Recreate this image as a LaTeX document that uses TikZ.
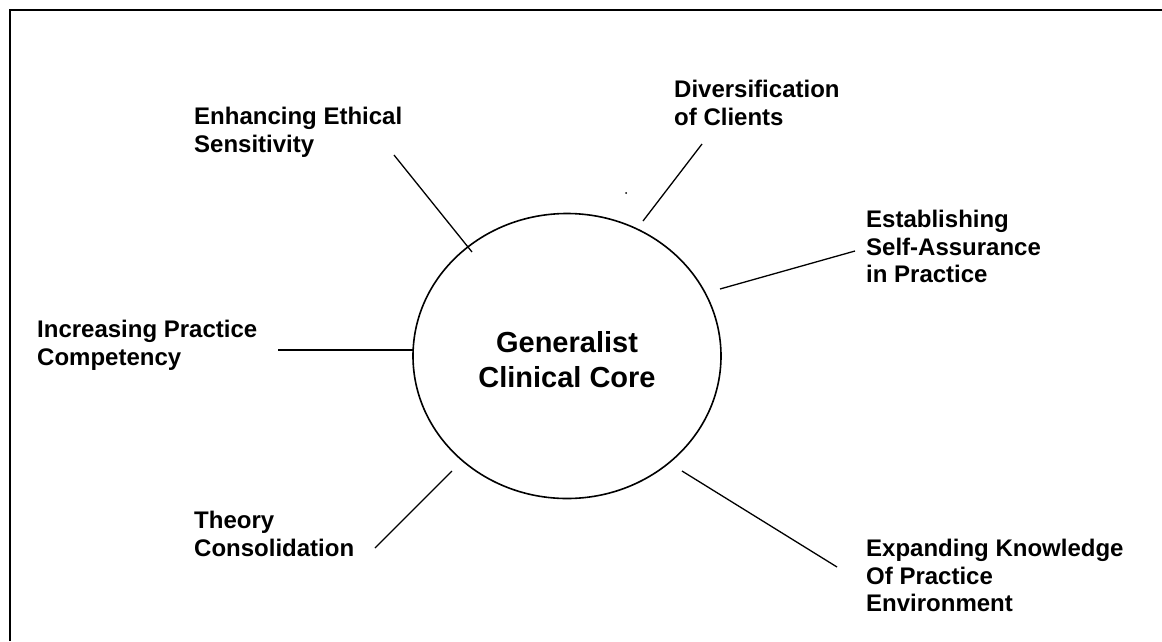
\documentclass[tikz,border=0pt]{standalone}
\usepackage{fontspec}
\setmainfont{Liberation Sans}
\usetikzlibrary{shapes.geometric}

\begin{document}
\begin{tikzpicture}[x=1pt,y=-1pt,
  theme/.style={anchor=north west,align=left,inner sep=0pt,font=\fontsize{24}{27.5}\selectfont\bfseries},
  spoke/.style={line width=1.3pt},
  hub/.style={ellipse,draw,line width=1.6pt,inner sep=0pt,minimum width=308,minimum height=285},
  hubtext/.style={align=center,inner sep=0pt,font=\fontsize{29}{35}\selectfont\bfseries}]
\useasboundingbox (0,0) rectangle (1162,641);
\draw[line width=2pt] (10,641) -- (10,10) -- (1162,10);
\node [hub] (core) at (567,356) {};
\node [hubtext] (corename) at ([yshift=-4pt]core.center) {Generalist\\Clinical Core};
% the six themes round the core
\node [theme] (ethics) at (194,107) {Enhancing Ethical\\Sensitivity};
\node [theme] (clients) at (674,80) {Diversification\\of Clients};
\node [theme] (assurance) at (866,210) {Establishing\\Self-Assurance\\in Practice};
\node [theme] (competency) at (37,320) {Increasing Practice\\Competency};
\node [theme] (theory) at (194,511) {Theory\\Consolidation};
\node [theme] (environment) at (866,539) {Expanding Knowledge\\Of Practice\\Environment};
\fill (626,193) circle (1pt);
% spoke ends
\coordinate (ethicsA) at (394,155);     \coordinate (ethicsB) at (472,252);
\coordinate (clientsA) at (702,144);    \coordinate (clientsB) at (643,221);
\coordinate (assuranceA) at (855,251);  \coordinate (assuranceB) at (720,289);
\coordinate (competencyA) at (278,350); \coordinate (competencyB) at (413,350);
\coordinate (theoryA) at (375,548);     \coordinate (theoryB) at (452,471);
\coordinate (environmentA) at (837,567); \coordinate (environmentB) at (682,471);
\foreach \th in {ethics,clients,assurance,competency,theory,environment}
  {\draw [spoke] (\th A) -- (\th B);}
\end{tikzpicture}
\end{document}
